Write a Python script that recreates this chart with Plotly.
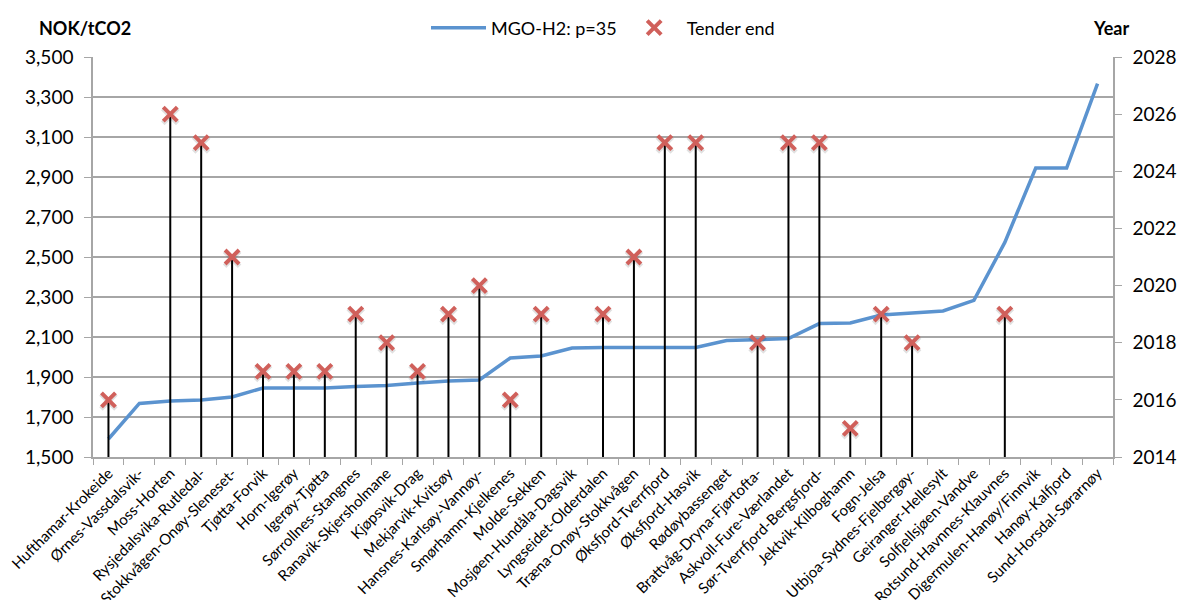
import plotly.graph_objects as go

routes = [
    "Hufthamar-Krokeide", "Ørnes-Vassdalsvik-", "Moss-Horten", "Rysjedalsvika-Rutledal-",
    "Stokkvågen-Onøy-Sleneset-", "Tjøtta-Forvik", "Horn-Igerøy", "Igerøy-Tjøtta",
    "Sørrollnes-Stangnes", "Ranavik-Skjersholmane", "Kjøpsvik-Drag", "Mekjarvik-Kvitsøy",
    "Hansnes-Karlsøy-Vannøy-", "Smørhamn-Kjelkenes", "Molde-Sekken", "Mosjøen-Hundåla-Dagsvik",
    "Lyngseidet-Olderdalen", "Træna-Onøy-Stokkvågen", "Øksfjord-Tverrfjord", "Øksfjord-Hasvik",
    "Rødøybassenget", "Brattvåg-Dryna-Fjørtofta-", "Askvoll-Fure-Værlandet", "Sør-Tverrfjord-Bergsfjord-",
    "Jektvik-Kilboghamn", "Fogn-Jelsa", "Utbjoa-Sydnes-Fjelbergøy-", "Geiranger-Hellesylt",
    "Solfjellsjøen-Vandve", "Rotsund-Havnnes-Klauvnes", "Digermulen-Hanøy/Finnvik", "Hanøy-Kalfjord",
    "Sund-Horsdal-Sørarnøy",
]

# Abatement cost, MGO -> H2 at p=35 (NOK per tonne CO2)
cost_mgo_h2 = [
    1590, 1768, 1780, 1785, 1800, 1845, 1845, 1845, 1853, 1857, 1870, 1880,
    1885, 1995, 2005, 2045, 2048, 2048, 2048, 2048, 2082, 2087, 2092, 2167,
    2170, 2210, 2222, 2230, 2283, 2573, 2945, 2945, 3367,
]

# Year the current ferry tender ends (None = not given)
tender_end = [
    2016, None, 2026, 2025, 2021, 2017, 2017, 2017, 2019, 2018, 2017, 2019,
    2020, 2016, 2019, None, 2019, 2021, 2025, 2025, None, 2018, 2025, 2025,
    2015, 2019, 2018, None, None, 2019, None, None, None,
]

left_ticks = list(range(1500, 3501, 200))
right_ticks = list(range(2014, 2029, 2))
year_floor = 2014

FONT = "Lato, 'Open Sans', sans-serif"
GRID = "#A6A6A6"
BLUE = "#5B93CF"
RED = "#D0605B"

# Stems from the bottom of the year axis up to each tender-end marker
stem_x, stem_y = [], []
for r, yr in zip(routes, tender_end):
    if yr is not None:
        stem_x += [r, r, None]
        stem_y += [year_floor, yr, None]

mx = [r for r, yr in zip(routes, tender_end) if yr is not None]
my = [yr for yr in tender_end if yr is not None]

fig = go.Figure()

fig.add_trace(go.Scatter(
    x=routes, y=cost_mgo_h2, mode="lines", name="MGO-H2: p=35",
    line=dict(color=BLUE, width=3.5),
))

fig.add_trace(go.Scatter(
    x=stem_x, y=stem_y, yaxis="y2", mode="lines",
    line=dict(color="black", width=2), showlegend=False, hoverinfo="skip",
))

# soft drop shadow under the markers
fig.add_trace(go.Scatter(
    x=mx, y=[v - 0.06 for v in my], yaxis="y2", mode="markers",
    marker=dict(symbol="x-thin", size=15, line=dict(width=5, color="rgba(0,0,0,0.12)")),
    showlegend=False, hoverinfo="skip",
))

fig.add_trace(go.Scatter(
    x=mx, y=my, yaxis="y2", mode="markers", name="Tender end",
    marker=dict(symbol="x-thin", size=14, color=RED, line=dict(width=4, color=RED)),
))

fig.update_layout(
    width=1179, height=600,
    margin=dict(l=93, r=66, t=57, b=143, autoexpand=False),
    paper_bgcolor="white", plot_bgcolor="white",
    font=dict(family=FONT, size=17, color="black"),
    showlegend=True,
    legend=dict(
        orientation="h", x=0.5, xanchor="center",
        yref="container", y=1 - 28 / 600, yanchor="middle",
        font=dict(size=18), itemwidth=55, bgcolor="rgba(0,0,0,0)",
    ),
    xaxis=dict(
        type="category", categoryorder="array", categoryarray=routes,
        tickangle=-45, tickfont=dict(size=15), automargin=False,
        showgrid=False, showline=True, linecolor=GRID, linewidth=1.5,
        ticks="outside", tickson="boundaries", ticklen=6, tickcolor=GRID,
        range=[-0.5, len(routes) - 0.5],
    ),
    yaxis=dict(
        range=[left_ticks[0], left_ticks[-1]], tickvals=left_ticks, tickformat=",d",
        tickfont=dict(size=19), ticklabelstandoff=7,
        showgrid=True, gridcolor=GRID, gridwidth=1.5, automargin=False,
        showline=True, linecolor=GRID, linewidth=1.5,
        ticks="outside", ticklen=7, tickcolor=GRID, zeroline=False,
    ),
    yaxis2=dict(
        overlaying="y", side="right", automargin=False,
        range=[right_ticks[0], right_ticks[-1]], tickvals=right_ticks,
        tickfont=dict(size=19), ticklabelstandoff=7,
        showgrid=False, showline=True, linecolor=GRID, linewidth=1.5,
        ticks="outside", ticklen=7, tickcolor=GRID, zeroline=False,
    ),
    annotations=[
        dict(text="<b>NOK/tCO2</b>", xref="paper", yref="paper", x=-0.055, y=1.0,
             xanchor="left", yanchor="bottom", yshift=16, showarrow=False,
             font=dict(size=18)),
        dict(text="<b>Year</b>", xref="paper", yref="paper", x=1.0, y=1.0,
             xanchor="left", yanchor="bottom", yshift=16, xshift=-22, showarrow=False,
             font=dict(size=18)),
    ],
)

fig.write_html("out.html")
